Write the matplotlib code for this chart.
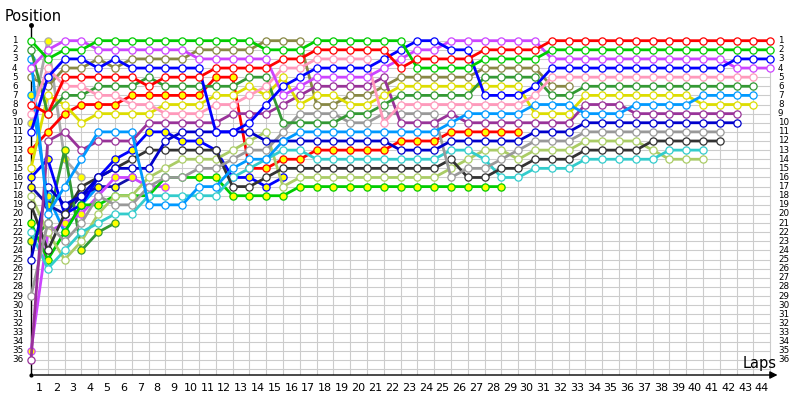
import matplotlib
matplotlib.use("Agg")
import matplotlib.pyplot as plt
from matplotlib import transforms
from matplotlib.patches import FancyArrowPatch

# race position of each car, one entry per lap (lap 0 = grid)
red = [8, 9, 5, 5, 5, 5, 5, 6, 5, 5, 5, 4, 4, 4, 4, 3, 3, 2, 2, 2,
       2, 2, 4, 3, 3, 3, 3, 2, 2, 2, 2, 1, 1, 1, 1, 1, 1, 1, 1, 1,
       1, 1, 1, 1, 1]
green = [1, 3, 2, 2, 1, 1, 1, 1, 1, 1, 1, 1, 1, 1, 2, 2, 2, 1, 1, 1,
         1, 1, 1, 4, 4, 4, 4, 3, 3, 3, 3, 2, 2, 2, 2, 2, 2, 2, 2, 2,
         2, 2, 2, 2, 2]
blue = [11, 5, 3, 3, 4, 3, 4, 4, 4, 4, 4, 11, 11, 10, 8, 6, 5, 4, 4, 4,
        4, 3, 2, 1, 1, 2, 2, 7, 7, 7, 6, 4, 4, 4, 4, 4, 4, 4, 4, 4,
        4, 4, 3, 3, 3]
violet = [4, 2, 1, 1, 2, 2, 2, 2, 2, 2, 3, 3, 3, 3, 3, 7, 6, 5, 5, 5,
          5, 4, 3, 2, 2, 1, 1, 1, 1, 1, 1, 3, 3, 3, 3, 3, 3, 3, 3, 3,
          3, 3, 4, 4, 4]
pink = [9, 4, 6, 6, 7, 7, 8, 8, 9, 9, 9, 8, 8, 7, 6, 4, 4, 3, 3, 3,
        3, 10, 8, 8, 8, 8, 8, 8, 8, 8, 7, 5, 5, 5, 5, 5, 5, 5, 5, 5,
        5, 5, 5, 5]
dkgreen = [2, 9, 7, 7, 6, 6, 6, 5, 6, 6, 6, 6, 6, 5, 5, 10, 10, 10, 10, 9,
           9, 8, 7, 7, 7, 7, 7, 5, 5, 5, 5, 7, 7, 6, 6, 6, 6, 6, 6, 6,
           6, 6, 6, 6]
ltblue = [3, 20, 17, 14, 11, 11, 11, 19, 19, 19, 17, 17, 15, 14, 14, 12, 11, 11, 11, 11,
          11, 11, 11, 11, 11, 10, 9, 9, 9, 9, 8, 8, 8, 9, 9, 9, 8, 8, 8, 8,
          7, 7, 7, 7]
yellow = [15, 7, 8, 10, 9, 9, 9, 9, 8, 8, 8, 7, 7, 6, 7, 5, 8, 7, 7, 8,
          8, 7, 6, 6, 6, 6, 6, 6, 6, 6, 9, 9, 9, 7, 7, 7, 7, 7, 7, 7,
          8, 8, 8, 8]
dkpurple = [36, 12, 11, 13, 12, 12, 12, 10, 10, 10, 10, 10, 9, 9, 9, 8, 7, 6, 6, 6,
            6, 5, 10, 10, 10, 9, 10, 10, 10, 10, 10, 10, 10, 8, 8, 8, 9, 9, 9, 9,
            9, 9, 9]
dkblue = [25, 17, 19, 18, 16, 15, 15, 15, 12, 11, 11, 11, 11, 11, 12, 12, 12, 12, 12, 12,
          12, 12, 13, 13, 13, 12, 12, 12, 12, 12, 11, 11, 11, 10, 10, 10, 10, 10, 10, 10,
          10, 10, 10]
gray = [29, 21, 23, 21, 18, 19, 19, 17, 16, 16, 15, 15, 14, 13, 13, 11, 9, 9, 9, 10,
        10, 9, 9, 9, 9, 16, 15, 15, 14, 13, 12, 12, 12, 11, 11, 11, 11, 11, 11, 11,
        11, 11]
black = [19, 24, 20, 17, 16, 15, 14, 13, 13, 13, 13, 13, 17, 17, 16, 15, 15, 15, 15, 15,
         15, 15, 15, 15, 15, 14, 16, 16, 15, 15, 14, 14, 14, 13, 13, 13, 13, 12, 12, 12,
         12, 12]
cyan = [22, 26, 24, 22, 21, 20, 20, 18, 18, 18, 18, 18, 16, 15, 14, 13, 13, 14, 14, 14,
        14, 14, 14, 14, 14, 13, 13, 14, 16, 16, 15, 15, 15, 14, 14, 14, 14, 14, 13, 13,
        13]
ltgreen = [18, 22, 25, 23, 20, 18, 18, 16, 15, 14, 14, 14, 13, 12, 11, 17, 16, 16, 16, 16,
           16, 16, 16, 16, 16, 15, 14, 13, 13, 14, 13, 13, 13, 12, 12, 12, 12, 13, 14, 14,
           14]
olive = [5, 6, 4, 4, 3, 4, 3, 3, 3, 3, 2, 2, 2, 2, 1, 1, 1, 8, 8, 7,
         7, 6, 5, 5, 5, 5, 5, 4, 4, 4, 4, 6, 6]
red_y = [13, 11, 9, 8, 8, 8, 7, 7, 7, 7, 7, 5, 5, 15, 15, 14, 14, 13, 13, 13,
         13, 13, 12, 12, 12, 11, 11, 11, 11, 11]
green_y = [21, 25, 22, 19, 19, 18, 18, 18, 16, 16, 16, 16, 18, 18, 18, 18, 17, 17, 17, 17,
           17, 17, 17, 17, 17, 17, 17, 17, 17]
blue_y = [16, 14, 20, 19, 16, 14, 13, 11, 11, 12, 12, 13, 16, 16, 17, 16]
violet_y = [35, 22, 21, 20, 18, 16, 16, 17, 17]
dkgreen_y = [23, 21, 13, 24, 22, 21]
dkblue_y = [17, 19, 20, 18, 17, 17, 16]
ltblue_y = [7, 18, 22, 19, 17]
gray_y = [10, 1, 14, 16]

# drawing order: early retirements first, leaders last (on top)
cars = [
    (gray_y, '#aaaaaa', True), (ltblue_y, '#0099ff', True), (dkblue_y, '#1111aa', True),
    (dkgreen_y, '#339933', True), (violet_y, '#cc44ff', True), (blue_y, '#0000ff', True),
    (green_y, '#00cc00', True), (red_y, '#ff0000', True), (olive, '#888844', False),
    (ltgreen, '#aacc66', False), (cyan, '#33cccc', False), (black, '#333333', False),
    (gray, '#999999', False), (dkblue, '#0000cc', False), (dkpurple, '#993399', False),
    (yellow, '#dddd00', False), (ltblue, '#0099ff', False), (dkgreen, '#339933', False),
    (pink, '#ff99bb', False), (violet, '#cc44ff', False), (blue, '#0000ff', False),
    (green, '#00cc00', False), (red, '#ff0000', False),
]

n_laps = 44
n_pos = 36

fig = plt.figure(figsize=(8, 4), dpi=100)
ax = fig.add_axes([31 / 800, 25 / 400, 749 / 800, 350 / 400])
ax.set_xlim(0, 44.58)
ax.set_ylim(37.66, -0.72)
ax.axis('off')

# grid
for p in range(1, n_pos + 2):
    ax.plot([0, n_laps], [p, p], color='#cccccc', lw=0.8, zorder=0)
for lap in range(1, n_laps + 1):
    ax.plot([lap, lap], [1, 37.66], color='#cccccc', lw=0.8, zorder=0)

# axes lines
ax.plot([0, 0], [-0.72, 37.66], color='black', lw=1, zorder=1, clip_on=False)
ax.plot([0], [-0.72], 'o', color='black', ms=2.5, clip_on=False)
ax.plot([0], [37.66], 'o', color='black', ms=2, clip_on=False)
arrow = FancyArrowPatch((0, 37.66), (44.6, 37.66), arrowstyle='-|>', mutation_scale=11,
                        color='black', lw=1, clip_on=False)
ax.add_patch(arrow)

# cars
for k, (pos, col, filled) in enumerate(cars):
    laps = list(range(len(pos)))
    face = '#ffff00' if filled else 'white'
    ax.plot(laps, pos, color=col, lw=2, solid_capstyle='round', zorder=2 + k,
            marker='o', ms=5.2, mfc=face, mec=col, mew=0.9, clip_on=False)

# labels
left_tr = transforms.blended_transform_factory(fig.transFigure, ax.transData)
for p in range(1, n_pos + 1):
    ax.text(12 / 800, p, str(p), transform=left_tr, fontsize=6.3,
            ha='left', va='center', family='DejaVu Sans')
    ax.text(778 / 800, p, str(p), transform=left_tr, fontsize=6.3,
            ha='left', va='center', family='DejaVu Sans')

bot_tr = transforms.blended_transform_factory(ax.transData, fig.transFigure)
for lap in range(1, n_laps + 1):
    ax.text(lap - 0.5, (400 - 388) / 400, str(lap), transform=bot_tr, fontsize=8,
            ha='center', va='center', family='DejaVu Sans')

fig.text(5 / 800, (400 - 21) / 400, 'Position', fontsize=10.5, family='DejaVu Sans',
         ha='left', va='baseline')
fig.text(743 / 800, (400 - 368) / 400, 'Laps', fontsize=10.5, family='DejaVu Sans',
         ha='left', va='baseline')

fig.savefig('out.png', dpi=100)
